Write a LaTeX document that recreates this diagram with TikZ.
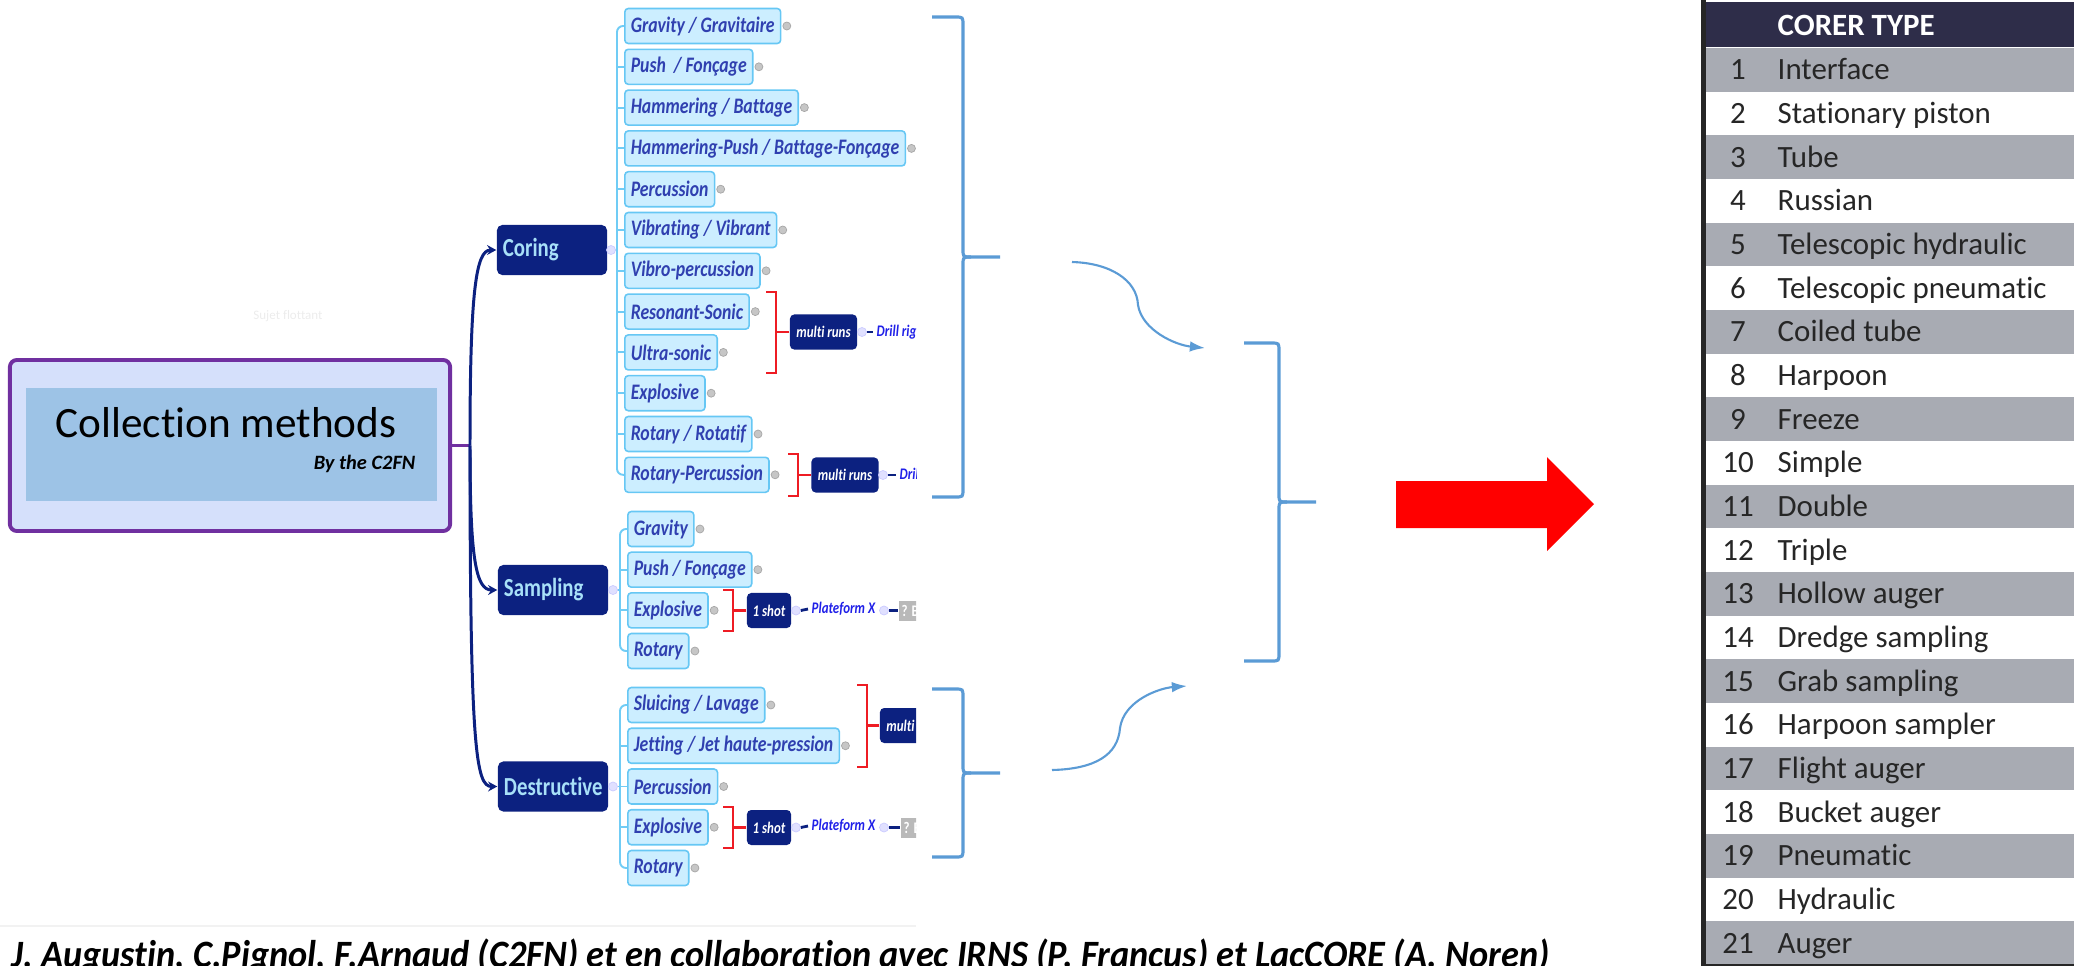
\documentclass[tikz,border=0pt]{standalone}
\usepackage{fontspec}
\setmainfont{Carlito}[Ligatures=NoCommon]
\newfontfamily\mmfont[FakeStretch=0.8, Ligatures=NoCommon]{Carlito}
\newfontfamily\creditfont[FakeStretch=0.94, Ligatures=NoCommon]{Carlito}
\usetikzlibrary{arrows.meta,positioning}

\definecolor{rootpurple}{HTML}{7030A0}
\definecolor{rootfill}{HTML}{D5E0FB}
\definecolor{rootpanel}{HTML}{9DC3E6}
\definecolor{mmnavy}{HTML}{0C2180}
\definecolor{cattext}{HTML}{A8E0F8}
\definecolor{leaffill}{HTML}{CCEEFF}
\definecolor{leafdraw}{HTML}{66C7F4}
\definecolor{leaftext}{HTML}{3040B0}
\definecolor{spineblue}{HTML}{70CCF5}
\definecolor{brred}{HTML}{EE1C24}
\definecolor{drillblue}{HTML}{2020E8}
\definecolor{braceblue}{HTML}{5B9BD5}
\definecolor{rowgray}{HTML}{A8ABB3}
\definecolor{headnavy}{HTML}{2E2D49}

\tikzset{
  rootbox/.style={draw=rootpurple, fill=rootfill, line width=1.1pt, rounded corners=2pt,
    minimum width=4.40cm, minimum height=1.71cm},
  rootpanel/.style={fill=rootpanel, minimum width=4.11cm, minimum height=1.13cm},
  cat/.style={fill=mmnavy, text=cattext, rounded corners=1.5pt, minimum height=5mm,
    text width=9.8mm, inner xsep=0.6mm, align=left,
    font=\mmfont\bfseries\fontsize{7.4}{8}\selectfont},
  leaf/.style={anchor=west, draw=leafdraw, fill=leaffill, text=leaftext, line width=0.45pt,
    rounded corners=1pt, minimum height=3.5mm, inner xsep=0.6mm, inner ysep=0pt,
    font=\mmfont\bfseries\itshape\fontsize{6.3}{7}\selectfont},
  plus/.style={circle, fill=gray!45, draw=gray!70, line width=0.2pt, minimum size=0.8mm, inner sep=0pt},
  fold/.style={circle, fill=blue!12, draw=blue!20, line width=0.2pt, minimum size=0.9mm, inner sep=0pt},
  spine/.style={draw=spineblue, line width=0.55pt, rounded corners=0.6mm},
  tag/.style={fill=mmnavy, text=white, rounded corners=1.2pt, minimum height=3.5mm, inner xsep=0.5mm,
    font=\mmfont\bfseries\itshape\fontsize{4.6}{5}\selectfont},
  note/.style={anchor=west, text=drillblue, inner xsep=0.3mm, inner ysep=0pt,
    font=\mmfont\bfseries\itshape\fontsize{4.6}{5}\selectfont},
  qbox/.style={anchor=west, fill=gray!55, text=white, minimum height=2mm, inner xsep=0.3mm, inner ysep=0pt,
    font=\mmfont\bfseries\fontsize{4.6}{5}\selectfont},
  notedash/.style={draw=mmnavy, line width=0.8pt},
  redbr/.style={draw=brred, line width=0.7pt},
  curly/.style={draw=braceblue, line width=0.9pt},
  sarrow/.style={draw=braceblue, line width=0.6pt, -{Latex[length=4.3pt,width=3pt]}},
  navyarrow/.style={draw=mmnavy, line width=0.85pt, -{Stealth[length=2.6pt,width=2.8pt]}},
  numcell/.style={anchor=base, inner sep=0pt, text=black!85, font=\fontsize{8.8}{10}\selectfont},
  kindcell/.style={anchor=base west, inner sep=0pt, text=black!85, font=\fontsize{8.8}{10}\selectfont},
}

% #1 tips x, #2 spine x, #3 top y, #4 middle y, #5 bottom y
\newcommand\curlyright[5]{%
  \draw[curly] (#1,#3) -- ({#2-8},#3) .. controls (#2,#3) .. (#2,{#3+8}) -- (#2,{#4-8})
    .. controls (#2,#4) .. ({#2+8},#4) -- ({#2+37},#4);
  \draw[curly] ({#2+8},#4) .. controls (#2,#4) .. (#2,{#4+8}) -- (#2,{#5-8})
    .. controls (#2,#5) .. ({#2-8},#5) -- (#1,#5);}
% #1 spine x, #2 top y, #3 bottom y, #4 tag node
\newcommand\redbracket[4]{%
  \draw[redbr] ({#1-10},#2) -- (#1,#2) -- (#1,#3) -- ({#1-10},#3);
  \draw[redbr] (#4.west) -- (#1,0 |- #4.west);}

\begin{document}
\begin{tikzpicture}[x=0.01cm,y=-0.01cm]
\useasboundingbox (0,0) rectangle (2074,966);

% central topic
\node[rootbox] (root) at (230,445.5) {};
\node[rootpanel] (panel) at (231.5,444.5) {};
\node[anchor=base, font=\fontsize{12.3}{14}\selectfont] (title) at (226,437) {Collection methods};
\node[anchor=base east, inner sep=0pt, font=\bfseries\itshape\fontsize{5.8}{7}\selectfont] (c2fn) at (416,469) {By the C2FN};
\node[text=gray!15, font=\fontsize{3.7}{4}\selectfont] (floating) at (288,316) {Sujet flottant};
\coordinate (J) at (470,445.5);
\draw[rootpurple, line width=1pt] (root.east) -- (J);

% main branches
\node[cat] (coring) at (552,250) {Coring};
\node[cat] (sampling) at (553,590) {Sampling};
\node[cat] (destr) at (553,786.5) {Destructive};
\draw[navyarrow] (J) .. controls (470,290) and (476,250) .. (coring.west);
\draw[navyarrow] (J) .. controls (470,560) and (476,590) .. (sampling.west);
\draw[navyarrow] (J) .. controls (470,750) and (476,786.5) .. (destr.west);

% coring methods
\foreach \txt [count=\i] in {Gravity / Gravitaire, Push~~/ Fonçage, Hammering / Battage,
    Hammering-Push / Battage-Fonçage, Percussion~, Vibrating / Vibrant, Vibro-percussion,
    Resonant-Sonic, Ultra-sonic, Explosive~, Rotary / Rotatif, Rotary-Percussion}
  \node[leaf] (c\i) at (624,{26+40.8*(\i-1)}) {\txt};
\coordinate (cj) at (617,250);
\draw[spine] (coring.east) -- (cj);
\draw[spine] (c1.west) -| (cj) |- (c12.west);
\foreach \i in {2,...,11} \draw[spine] (cj |- c\i.west) -- (c\i.west);
\node[fold] (cf) at (611,250) {};

% sampling methods
\foreach \txt [count=\i] in {Gravity, Push / Fonçage, Explosive, Rotary}
  \node[leaf] (s\i) at (627,{529+40.67*(\i-1)}) {\txt};
\coordinate (sj) at (620,590);
\draw[spine] (sampling.east) -- (sj);
\draw[spine] (s1.west) -| (sj) |- (s4.west);
\foreach \i in {2,3} \draw[spine] (sj |- s\i.west) -- (s\i.west);
\node[fold] (sf) at (613,590) {};

% destructive methods
\foreach \txt [count=\i] in {Sluicing / Lavage, Jetting / Jet haute-pression,
    Percussion, Explosive, Rotary}
  \node[leaf] (d\i) at (627,{705+40.75*(\i-1)}) {\txt};
\coordinate (dj) at (620,786.5);
\draw[spine] (destr.east) -- (dj);
\draw[spine] (d1.west) -| (dj) |- (d5.west);
\foreach \i in {2,3,4} \draw[spine] (dj |- d\i.west) -- (d\i.west);
\node[fold] (df) at (613,786.5) {};

% expand icons
\foreach \i in {1,...,12} \node[plus, right=0.1mm of c\i] (cp\i) {};
\foreach \i in {1,...,4} \node[plus, right=0.1mm of s\i] (sp\i) {};
\foreach \i in {1,...,5} \node[plus, right=0.1mm of d\i] (dp\i) {};

% grouped tags
\node[tag, minimum width=6.7mm] (mr1) at (823.5,332) {multi runs};
\node[tag, minimum width=6.7mm] (mr2) at (845,475) {multi runs};
\node[tag, minimum width=4.4mm] (shot1) at (769,610.5) {1 shot};
\node[tag, minimum width=4.4mm] (shot2) at (769,827.5) {1 shot};
\redbracket{776}{292}{373}{mr1}
\redbracket{798}{454}{496}{mr2}
\redbracket{733}{590}{631}{shot1}
\redbracket{733}{807}{848}{shot2}

\node[fold] (mf1) at (862,332) {};
\node[fold] (mf2) at (883,475) {};
\node[fold] (tf1) at (796,610.5) {};
\node[fold] (tf2) at (796,827.5) {};
\node[note] (plat1) at (808,609) {Plateform X};
\node[note] (plat2) at (808,826) {Plateform X};
\node[fold] (pf1) at (884,610.5) {};
\node[fold] (pf2) at (884,827.5) {};
\draw[notedash] (tf1.east) -- (plat1.west);
\draw[notedash] (tf2.east) -- (plat2.west);

% part cut off at the right edge of the map
\begin{scope}
  \clip (0,0) rectangle (916,966);
  \node[note] (rig1) at (873,332) {Drill rig};
  \node[note] (rig2) at (896,475) {Drill rig};
  \node[tag, minimum width=6.7mm] (mr3) at (913.5,725.5) {multi runs};
  \node[qbox] (q1) at (898,610.5) {? B};
  \node[qbox] (q2) at (900,827.5) {? B};
  \draw[notedash] (mf1.east) -- (rig1.west);
  \draw[notedash] (mf2.east) -- (rig2.west);
  \draw[notedash] (pf1.east) -- (q1.west);
  \draw[notedash] (pf2.east) -- (q2.west);
\end{scope}
\redbracket{867}{685}{767}{mr3}
\draw[gray!10] (0,926) -- (916,926);

% braces and arrows
\curlyright{932}{963}{17}{257}{497}
\curlyright{932}{963}{689}{773}{857}
\curlyright{1244}{1279}{343}{502}{661}
\coordinate (a1s) at (1072,262);
\coordinate (a1e) at (1205,348);
\coordinate (a2s) at (1052,770);
\coordinate (a2e) at (1187,686);
\draw[sarrow] (a1s) .. controls (1110,263) and (1137,280) .. (1138,305)
  .. controls (1142,330) and (1175,345) .. (a1e);
\draw[sarrow] (a2s) .. controls (1095,769) and (1118,755) .. (1120,728)
  .. controls (1124,700) and (1160,688) .. (a2e);

% red block arrow
\fill[red] (1396,481) -- (1547,481) -- (1547,457) -- (1594,504) -- (1547,551)
  -- (1547,528) -- (1396,528) -- cycle;

% corer table
\fill[headnavy] (1706,2) rectangle (2074,47);
\foreach \n in {1,3,...,21}
  \fill[rowgray] (1706,{48+43.67*(\n-1)}) rectangle (2074,{48+43.67*\n});
\fill[black!85] (1701,0) rectangle (1706,966);
\draw[black!85, line width=0.4pt] (1706,965) -- (2074,965);
\node[anchor=base west, inner sep=0pt, text=white, font=\bfseries\fontsize{8.8}{10}\selectfont] (head) at (1777,35) {CORER TYPE};
\foreach \kind [count=\n] in {Interface, Stationary piston, Tube, Russian, Telescopic hydraulic,
    Telescopic pneumatic, Coiled tube, Harpoon, Freeze, Simple, Double, Triple, Hollow auger,
    Dredge sampling, Grab sampling, Harpoon sampler, Flight auger, Bucket auger, Pneumatic,
    Hydraulic, Auger} {
  \node[numcell] (n\n) at (1738,{48+43.67*(\n-0.5)+10}) {\n};
  \node[kindcell] (k\n) at (1777,{48+43.67*(\n-0.5)+10}) {\kind};
}

% credits
\node[anchor=base west, inner sep=0pt, font=\creditfont\bfseries\itshape\fontsize{11}{13}\selectfont] (credits) at (11,967)
  {J. Augustin, C.Pignol, F.Arnaud (C2FN) et en collaboration avec IRNS (P. Francus) et LacCORE (A. Noren)};
\end{tikzpicture}
\end{document}
